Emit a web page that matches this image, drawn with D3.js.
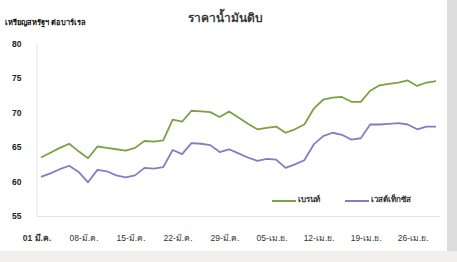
<!DOCTYPE html>
<html>
<head>
<meta charset="utf-8">
<script src="https://cdn.jsdelivr.net/npm/d3@7"></script>
<style>
  body { margin: 0; background: #fff; }
  svg { display: block; }
</style>
</head>
<body>
<svg id="chart" width="457" height="262"></svg>
<script>
// trading days 1 Mar - 30 Apr (weekdays), labels every 5th point
const dates = [
  '01 มี.ค.', '02 มี.ค.', '05 มี.ค.', '06 มี.ค.', '07 มี.ค.',
  '08 มี.ค.', '09 มี.ค.', '12 มี.ค.', '13 มี.ค.', '14 มี.ค.',
  '15 มี.ค.', '16 มี.ค.', '19 มี.ค.', '20 มี.ค.', '21 มี.ค.',
  '22 มี.ค.', '23 มี.ค.', '26 มี.ค.', '27 มี.ค.', '28 มี.ค.',
  '29 มี.ค.', '30 มี.ค.', '02 เม.ย.', '03 เม.ย.', '04 เม.ย.',
  '05 เม.ย.', '06 เม.ย.', '09 เม.ย.', '10 เม.ย.', '11 เม.ย.',
  '12 เม.ย.', '13 เม.ย.', '16 เม.ย.', '17 เม.ย.', '18 เม.ย.',
  '19 เม.ย.', '20 เม.ย.', '23 เม.ย.', '24 เม.ย.', '25 เม.ย.',
  '26 เม.ย.', '27 เม.ย.', '30 เม.ย.'
];
const tickLabels = ['01 มี.ค.', '08-มี.ค.', '15-มี.ค.', '22-มี.ค.', '29-มี.ค.',
  '05-เม.ย.', '12-เม.ย.', '19-เม.ย.', '26-เม.ย.'];

const brent = [
  63.5, 64.2, 64.9, 65.5, 64.4, 63.4, 65.1, 64.9, 64.7, 64.5,
  64.9, 65.9, 65.8, 66.0, 69.0, 68.7, 70.3, 70.2, 70.1, 69.4,
  70.2, 69.3, 68.4, 67.6, 67.8, 68.0, 67.1, 67.6, 68.3, 70.6,
  71.9, 72.2, 72.3, 71.6, 71.6, 73.2, 74.0, 74.2, 74.4, 74.7,
  73.9, 74.4, 74.6
];
const wti = [
  60.7, 61.2, 61.8, 62.3, 61.4, 59.9, 61.7, 61.5, 60.9, 60.6,
  60.9, 62.0, 61.9, 62.1, 64.6, 64.0, 65.6, 65.5, 65.3, 64.3,
  64.7, 64.1, 63.5, 63.0, 63.3, 63.2, 62.0, 62.5, 63.1, 65.4,
  66.6, 67.1, 66.8, 66.1, 66.3, 68.3, 68.3, 68.4, 68.5, 68.3,
  67.6, 68.0, 68.0
];
const yTicks = [55, 60, 65, 70, 75, 80];

const series = [
  { name: 'เบรนท์', values: brent, color: '#7da044' },
  { name: 'เวสต์เท็กซัส', values: wti, color: '#7e7fc6' }
];

const svg = d3.select('#chart');
const font = '"Liberation Sans", Arial, "DejaVu Sans", sans-serif';

// scanned page edges
svg.append('rect').attr('x', 447).attr('y', 0).attr('width', 10).attr('height', 262)
  .attr('fill', '#dcdcdc');
svg.append('rect').attr('x', 0).attr('y', 251).attr('width', 457).attr('height', 11)
  .attr('fill', '#f2efef');

const x = d3.scalePoint().domain(dates).range([41, 436]);
const y = d3.scaleLinear().domain([55, 80]).range([216, 44]);

// axis lines
svg.append('line').attr('x1', 37).attr('x2', 37).attr('y1', 44).attr('y2', 216)
  .attr('stroke', '#e4e4e4').attr('stroke-width', 1);
svg.append('line').attr('x1', 37).attr('x2', 440).attr('y1', 216.5).attr('y2', 216.5)
  .attr('stroke', '#e4e4e4').attr('stroke-width', 1);

// y ticks
svg.append('g').selectAll('text')
  .data(yTicks)
  .join('text')
  .attr('x', 12)
  .attr('y', (d) => y(d))
  .attr('dominant-baseline', 'central')
  .style('font', `bold 8.5px ${font}`)
  .style('fill', '#222')
  .text((d) => d);

// x ticks
const tickDates = dates.filter((d, i) => i % 5 === 0);
svg.append('g').selectAll('text')
  .data(tickDates)
  .join('text')
  .attr('x', (d) => x(d) - 4)
  .attr('y', 238)
  .attr('text-anchor', 'middle')
  .attr('dominant-baseline', 'central')
  .style('font', `8.5px ${font}`)
  .style('font-weight', (d, i) => (i === 0 ? 'bold' : 'normal'))
  .style('fill', '#333')
  .text((d, i) => tickLabels[i]);

// lines
const line = d3.line()
  .x((d, i) => x(dates[i]))
  .y((d) => y(d));

svg.append('g').selectAll('path')
  .data(series)
  .join('path')
  .attr('d', (s) => line(s.values))
  .attr('fill', 'none')
  .attr('stroke', (s) => s.color)
  .attr('stroke-width', 1.8)
  .attr('stroke-linejoin', 'round');

// titles
svg.append('text')
  .attr('x', 225)
  .attr('y', 18)
  .attr('text-anchor', 'middle')
  .attr('dominant-baseline', 'central')
  .style('font', `bold 12px ${font}`)
  .style('fill', '#3a3a3a')
  .text('ราคาน้ำมันดิบ');

svg.append('text')
  .attr('x', 5)
  .attr('y', 22)
  .attr('dominant-baseline', 'central')
  .style('font', `bold 7.5px ${font}`)
  .style('fill', '#111')
  .text('เหรียญสหรัฐฯ ต่อบาร์เรล');

// legend
const legend = svg.append('g').selectAll('g')
  .data(series)
  .join('g')
  .attr('transform', (d, i) => `translate(${i === 0 ? 272 : 345},199)`);

legend.append('line')
  .attr('x1', 0).attr('x2', 24)
  .attr('y1', 2).attr('y2', 2)
  .attr('stroke', (d) => d.color)
  .attr('stroke-width', 2);

legend.append('text')
  .attr('x', 26)
  .attr('y', 0)
  .attr('dominant-baseline', 'central')
  .style('font', `bold 8px ${font}`)
  .style('fill', '#333')
  .text((d) => d.name);
</script>
</body>
</html>
